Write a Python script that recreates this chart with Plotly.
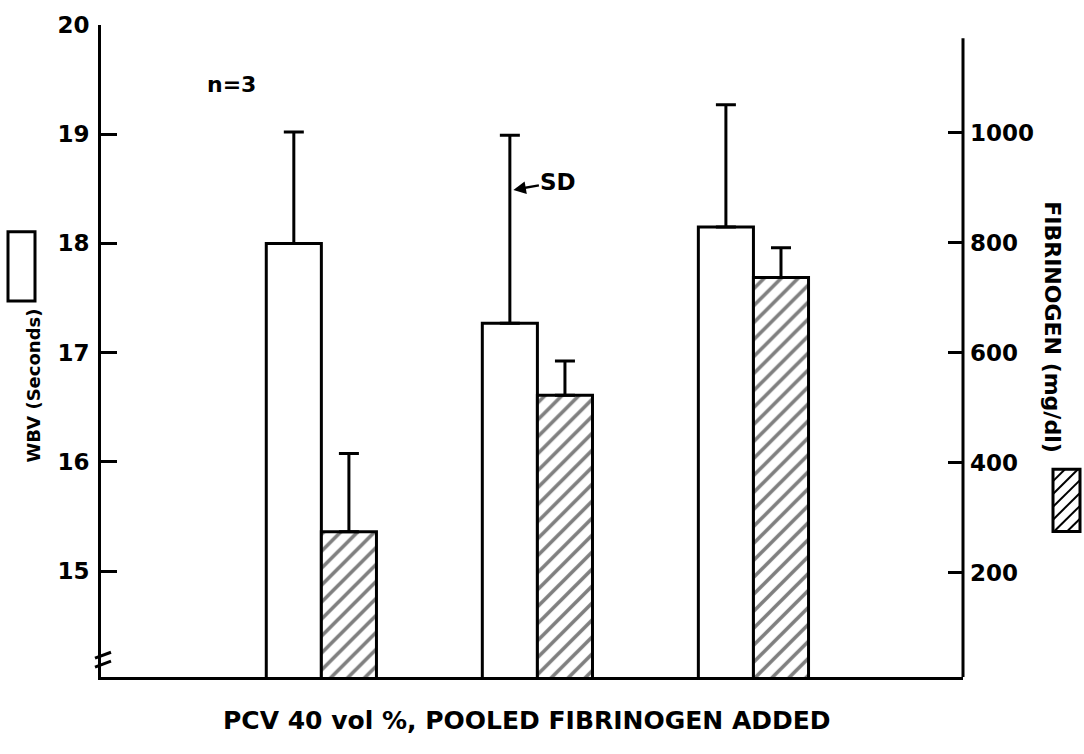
import plotly.graph_objects as go

# ---- data ----
groups = [0, 1, 2]
wbv = [18.0, 17.27, 18.15]          # seconds
wbv_sd = [1.02, 1.72, 1.12]
fib = [275, 523, 737]               # mg/dl
fib_sd = [142, 62, 54]
left_ticks = [15, 16, 17, 18, 19, 20]
right_ticks = [200, 400, 600, 800, 1000]

# ---- pixel helpers for decorations ----
L, R, T, B = 101, 963, 18, 677
def px(x):
    return (x - L) / (R - L)
def py(y):
    return (B - y) / (B - T)

BAR_W = 0.255
FONT = "DejaVu Sans"

fig = go.Figure()
fig.add_trace(go.Bar(
    x=groups, y=wbv, width=BAR_W, offset=-BAR_W,
    marker=dict(color="white", line=dict(color="black", width=3)),
    error_y=dict(type="data", symmetric=False, array=wbv_sd, arrayminus=[0] * 3,
                 color="black", thickness=3, width=10),
    yaxis="y", showlegend=False,
))
fig.add_trace(go.Bar(
    x=groups, y=fib, width=BAR_W, offset=0,
    marker=dict(color="white", line=dict(color="black", width=3),
                pattern=dict(shape="/", fgcolor="black", bgcolor="white", size=12, solidity=0.3)),
    error_y=dict(type="data", symmetric=False, array=fib_sd, arrayminus=[0] * 3,
                 color="black", thickness=3, width=10),
    yaxis="y2", showlegend=False,
))

shapes = []
# right axis line (ends below the top)
shapes.append(dict(type="line", xref="paper", yref="y2", x0=1, x1=1, y0=10.8, y1=1172,
                   line=dict(color="black", width=3)))
# axis break marks on left axis
for yy in (655, 664):
    shapes.append(dict(type="line", xref="paper", yref="paper",
                       x0=px(95), x1=px(111), y0=py(yy + 3), y1=py(yy - 3),
                       line=dict(color="black", width=3)))
# legend boxes
shapes.append(dict(type="rect", xref="paper", yref="paper",
                   x0=px(8), x1=px(35), y0=py(297), y1=py(227),
                   line=dict(color="black", width=3), fillcolor="white"))
bx0, bx1, by0, by1 = 1053, 1080, 467, 530
shapes.append(dict(type="rect", xref="paper", yref="paper",
                   x0=px(bx0), x1=px(bx1), y0=py(by1), y1=py(by0),
                   line=dict(color="black", width=3), fillcolor="white"))
c = bx0 + by0 + 12
while c < bx1 + by1 - 4:
    xs = max(bx0, c - by1)
    xe = min(bx1, c - by0)
    shapes.append(dict(type="line", xref="paper", yref="paper",
                       x0=px(xs), x1=px(xe), y0=py(c - xs), y1=py(c - xe),
                       line=dict(color="black", width=2)))
    c += 13

annotations = [
    dict(text="n=3", xref="paper", yref="paper", x=px(205), y=py(63), showarrow=False,
         font=dict(family=FONT, size=22, color="black", weight="bold")),
    dict(text="SD", xref="x", yref="y", x=1 + (513 - 537) / 216, y=18.49,
         ax=45, ay=-8, showarrow=True, arrowhead=2, arrowsize=1, arrowwidth=2.5,
         arrowcolor="black", standoff=0,
         font=dict(family=FONT, size=23, color="black", weight="bold")),
    dict(text="WBV (Seconds)", xref="paper", yref="paper", x=px(21), y=py(383),
         textangle=-90, showarrow=False,
         font=dict(family=FONT, size=18, color="black", weight="bold")),
    dict(text="FIBRINOGEN (mg/dl)", xref="paper", yref="paper", x=px(1067), y=py(323),
         textangle=90, showarrow=False,
         font=dict(family=FONT, size=22, color="black", weight="bold")),
    dict(text="PCV 40 vol %, POOLED FIBRINOGEN ADDED", xref="paper", yref="paper",
         x=px(527), y=py(738), showarrow=False,
         font=dict(family=FONT, size=25, color="black", weight="bold")),
]

fig.update_layout(
    width=1084, height=754,
    margin=dict(l=L, r=1084 - R, t=T, b=754 - B),
    paper_bgcolor="white", plot_bgcolor="white",
    barmode="overlay",
    xaxis=dict(range=[-1.02, 2.97], showgrid=False, zeroline=False, showticklabels=False,
               ticks="", showline=True, linecolor="black", linewidth=3),
    yaxis=dict(range=[14.03, 20.0], tickvals=left_ticks, ticks="inside", ticklen=16,
               tickwidth=3, tickcolor="black", showline=True, linecolor="black", linewidth=3,
               showgrid=False, zeroline=False, ticklabelstandoff=4,
               tickfont=dict(family=FONT, size=23, color="black", weight="bold")),
    yaxis2=dict(range=[10.8, 1196], tickvals=right_ticks, ticks="inside", ticklen=15,
                tickwidth=3, tickcolor="black", overlaying="y", side="right", anchor="x",
                showline=False, showgrid=False, zeroline=False, ticklabelstandoff=6,
                tickfont=dict(family=FONT, size=23, color="black", weight="bold")),
    shapes=shapes, annotations=annotations,
)

fig.write_html("out.html", config={"displayModeBar": False},
               post_script="document.body.style.margin='0';document.body.style.overflow='hidden';")
